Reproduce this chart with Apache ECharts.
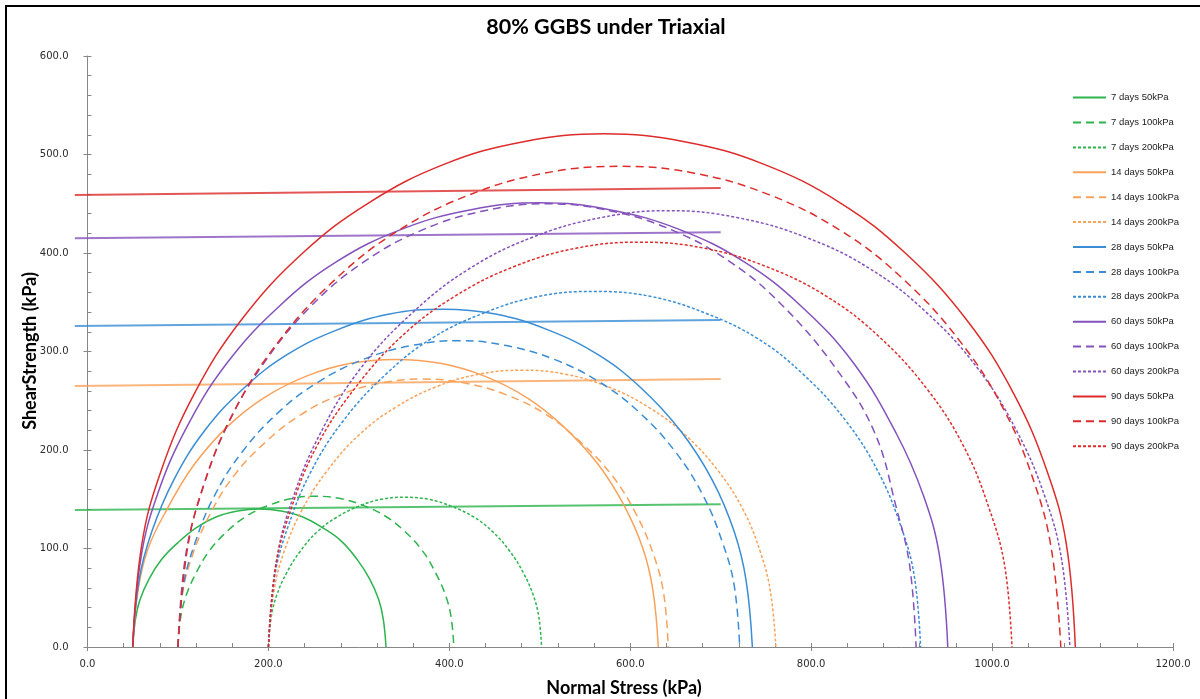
<!DOCTYPE html>
<html>
<head>
<meta charset="utf-8">
<script src="https://cdn.jsdelivr.net/npm/echarts@6/dist/echarts.min.js"></script>
<style>
  html, body { margin: 0; padding: 0; background: #fff; }
  #wrap { position: relative; width: 1200px; height: 699px; overflow: hidden; }
  #chart { position: absolute; left: 0; top: 0; width: 1200px; height: 699px; }
  #frame { position: absolute; left: 5px; top: 5px; width: 1300px; height: 800px;
           border: 2px solid #000; box-sizing: border-box; pointer-events: none; }
</style>
</head>
<body>
<div id="wrap">
  <div id="chart"></div>
  <div id="frame"></div>
</div>
<script>
// Axis ticks
const xTicks = [0, 200, 400, 600, 800, 1000, 1200];
const yTicks = [0, 100, 200, 300, 400, 500, 600];

// Legend labels, in drawing order
const names = [
  '7 days 50kPa', '7 days 100kPa', '7 days 200kPa',
  '14 days 50kPa', '14 days 100kPa', '14 days 200kPa',
  '28 days 50kPa', '28 days 100kPa', '28 days 200kPa',
  '60 days 50kPa', '60 days 100kPa', '60 days 200kPa',
  '90 days 50kPa', '90 days 100kPa', '90 days 200kPa'
];

// Mohr circles: [normal stress, shear stress] in kPa
const d7_50 = [[50,0],[53,28],[58,48],[68,69],[82,89],[100,106],[120,121],[142,132],[166,138],[190,140],[214,138],[238,132],[260,121],[280,108],[298,89],[312,69],[322,48],[327,28],[330,0]];
const d7_100 = [[100,0],[103,30],[109,52],[120,75],[135,98],[155,118],[176,133],[201,144],[227,151],[253,153],[278,151],[304,144],[329,133],[350,118],[370,98],[385,75],[396,52],[402,30],[405,0]];
const d7_200 = [[200,0],[203,30],[209,52],[220,75],[235,97],[254,117],[276,132],[300,143],[325,150],[351,152],[377,150],[402,143],[427,132],[448,117],[467,97],[482,75],[493,52],[499,30],[502,0]];

const d14_50 = [[50,0],[56,58],[67,100],[88,140],[117,184],[155,224],[195,253],[242,275],[291,288],[341,292],[390,288],[439,275],[486,253],[526,224],[564,186],[593,144],[614,100],[625,58],[631,0]];
const d14_100 = [[100,0],[105,54],[116,93],[135,134],[162,174],[198,209],[236,236],[279,256],[325,268],[371,272],[417,268],[463,256],[507,236],[544,209],[580,174],[607,134],[626,93],[637,54],[642,0]];
const d14_200 = [[200,0],[206,56],[217,96],[237,139],[265,179],[301,216],[340,243],[385,264],[433,277],[481,281],[528,277],[576,264],[621,243],[660,216],[697,179],[725,139],[744,96],[755,56],[761,0]];

const d28_50 = [[50,0],[57,68],[71,117],[95,169],[129,219],[173,263],[221,297],[276,322],[334,338],[393,343],[451,338],[509,322],[564,297],[612,263],[656,219],[691,169],[715,117],[728,68],[735,0]];
const d28_100 = [[100,0],[106,62],[119,106],[140,153],[171,198],[212,239],[255,269],[305,292],[358,306],[411,311],[463,306],[516,292],[566,269],[609,239],[650,198],[681,153],[702,106],[715,62],[721,0]];
const d28_200 = [[200,0],[207,72],[222,123],[247,178],[283,230],[330,277],[380,313],[438,339],[499,356],[561,361],[622,356],[683,339],[741,313],[791,277],[838,230],[874,178],[899,123],[914,72],[921,0]];

const d60_50 = [[50,0],[59,90],[77,154],[109,222],[154,288],[212,346],[275,391],[347,424],[424,444],[501,451],[577,444],[654,424],[726,391],[789,346],[847,288],[894,217],[924,154],[942,92],[951,0]];
const d60_100 = [[100,0],[108,90],[125,154],[153,222],[194,287],[247,346],[304,390],[369,423],[439,443],[508,450],[577,443],[647,423],[712,390],[769,346],[828,282],[870,218],[894,142],[909,82],[916,0]];
const d60_200 = [[200,0],[209,88],[227,151],[258,218],[302,283],[360,340],[422,384],[492,416],[568,436],[643,443],[718,436],[794,416],[865,384],[927,340],[984,283],[1028,218],[1059,151],[1077,88],[1086,0]];

const d90_50 = [[50,0],[60,104],[81,178],[118,257],[170,332],[238,400],[311,451],[394,490],[482,513],[571,521],[660,513],[748,490],[832,451],[904,400],[972,332],[1024,257],[1061,178],[1082,105],[1092,0]];
const d90_100 = [[100,0],[110,97],[129,166],[163,241],[212,311],[276,375],[344,423],[422,459],[505,481],[588,488],[671,481],[754,459],[832,423],[900,375],[964,311],[1013,241],[1047,166],[1066,97],[1076,0]];
const d90_200 = [[200,0],[208,82],[225,140],[253,203],[295,262],[348,316],[406,356],[471,386],[541,405],[611,411],[681,405],[751,386],[817,356],[874,316],[928,262],[969,203],[997,140],[1014,82],[1022,0]];

// Failure envelopes, one per curing age (they start slightly left of the stress origin)
const env7 = [[-14,139],[700,145]];
const env14 = [[-14,265],[700,272]];
const env28 = [[-14,326],[700,332]];
const env60 = [[-14,415],[700,421]];
const env90 = [[-14,459],[700,466]];
const envXMin = -14;

const circles = [d7_50, d7_100, d7_200, d14_50, d14_100, d14_200, d28_50, d28_100, d28_200,
                 d60_50, d60_100, d60_200, d90_50, d90_100, d90_200];
const envelopes = [env7, env14, env28, env60, env90];
const palette = ['#2DB44E', '#F9A25C', '#3A8DD4', '#8452BC', '#DC2C2C'];
const dashes = ['solid', [8, 5], [3, 2]];

// Plot geometry: the envelope grid shares the x scale but reaches further left
const plotLeft = 87.5, plotRight = 27, plotTop = 56, plotBottom = 52;
const plotWidth = 1200 - plotLeft - plotRight;
const pxPerKpa = plotWidth / (xTicks[xTicks.length - 1] - xTicks[0]);
const envLeft = plotLeft + envXMin * pxPerKpa;

const series = [];
circles.forEach(function (d, i) {
  series.push({
    name: names[i],
    type: 'line',
    data: d,
    symbol: 'none',
    smooth: 0.4,
    z: 3,
    lineStyle: { color: palette[Math.floor(i / 3)], width: 1.5, type: dashes[i % 3] },
    itemStyle: { color: palette[Math.floor(i / 3)] }
  });
});
envelopes.forEach(function (d, i) {
  series.push({
    type: 'line',
    xAxisIndex: 2, yAxisIndex: 2,
    data: d,
    symbol: 'none',
    z: 2,
    lineStyle: { color: palette[i], width: 2, opacity: 0.8 },
    silent: true
  });
});

const axisGray = '#868686';
const labelStyle = { fontFamily: 'DejaVu Sans', fontSize: 10, color: '#2b2b2b' };
const fmt = function (v) { return v.toFixed(1); };
const hiddenAxis = {
  type: 'value', gridIndex: 1,
  axisLine: { show: false }, axisTick: { show: false }, axisLabel: { show: false }, splitLine: { show: false }
};

const chart = echarts.init(document.getElementById('chart'), null, { renderer: 'canvas' });
chart.setOption({
  animation: false,
  backgroundColor: '#ffffff',
  title: {
    text: '80% GGBS under Triaxial',
    left: 601, top: 11, textAlign: 'center',
    textStyle: { fontFamily: 'Lato', fontWeight: 'bold', fontSize: 21.5, color: '#000' }
  },
  legend: {
    data: names,
    orient: 'vertical',
    left: 1072, top: 92,
    itemWidth: 33, itemHeight: 14, itemGap: 13.7,
    padding: 0,
    itemStyle: { opacity: 0, borderWidth: 0 },
    textStyle: { fontFamily: 'Liberation Sans', fontSize: 9.5, color: '#222' }
  },
  grid: [
    { left: plotLeft, right: plotRight, top: plotTop, bottom: plotBottom, containLabel: false },
    { left: envLeft, right: plotRight, top: plotTop, bottom: plotBottom, containLabel: false }
  ],
  xAxis: [{
    type: 'value', min: xTicks[0], max: xTicks[xTicks.length - 1], interval: 200,
    position: 'bottom',
    axisLine: { lineStyle: { color: axisGray, width: 1 } },
    axisTick: { inside: true, length: 4, lineStyle: { color: axisGray } },
    minorTick: { show: true, splitNumber: 5, length: 4, lineStyle: { color: axisGray } },
    splitLine: { show: false },
    axisLabel: Object.assign({ margin: 12, formatter: fmt }, labelStyle)
  }, {
    type: 'value', min: xTicks[0], max: xTicks[xTicks.length - 1], interval: 200,
    position: 'bottom',
    axisLine: { show: false },
    axisTick: { inside: false, length: 4, lineStyle: { color: axisGray } },
    splitLine: { show: false },
    axisLabel: { show: false }
  }, Object.assign({ min: envXMin, max: xTicks[xTicks.length - 1] }, hiddenAxis)],
  yAxis: [{
    type: 'value', min: yTicks[0], max: yTicks[yTicks.length - 1], interval: 100,
    position: 'left',
    axisLine: { show: true, lineStyle: { color: axisGray, width: 1 } },
    axisTick: { show: true, inside: true, length: 4, lineStyle: { color: axisGray } },
    minorTick: { show: true, splitNumber: 5, length: 4, lineStyle: { color: axisGray } },
    splitLine: { show: false },
    axisLabel: Object.assign({ margin: 19, formatter: fmt }, labelStyle)
  }, {
    type: 'value', min: yTicks[0], max: yTicks[yTicks.length - 1], interval: 100,
    position: 'left',
    axisLine: { show: false },
    axisTick: { show: true, inside: false, length: 4, lineStyle: { color: axisGray } },
    splitLine: { show: false },
    axisLabel: { show: false }
  }, Object.assign({ min: yTicks[0], max: yTicks[yTicks.length - 1] }, hiddenAxis)],
  graphic: [{
    type: 'text',
    style: { text: 'Normal Stress (kPa)', x: 624, y: 688, textAlign: 'center', textVerticalAlign: 'middle',
             font: 'bold 18px Lato', fill: '#000' }
  }, {
    type: 'text',
    rotation: Math.PI / 2, x: 30, y: 351,
    style: { text: 'ShearStrength (kPa)', x: 0, y: 0, textAlign: 'center', textVerticalAlign: 'middle',
             font: 'bold 18px Lato', fill: '#000' }
  }],
  series: series
});
</script>
</body>
</html>
